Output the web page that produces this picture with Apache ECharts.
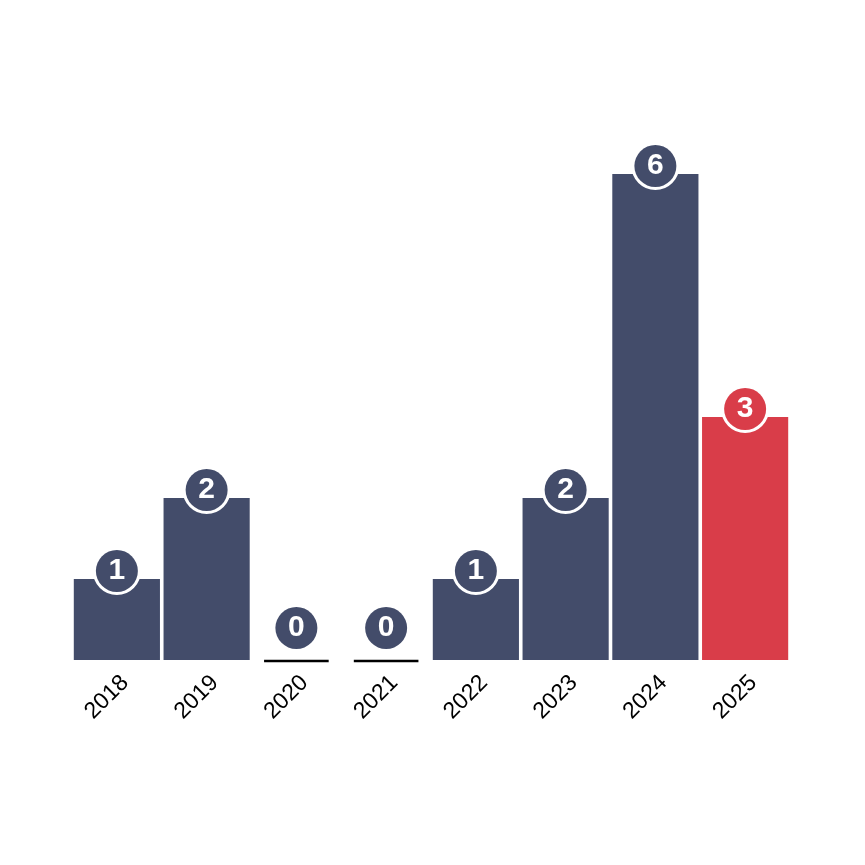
<!DOCTYPE html>
<html>
<head>
<meta charset="utf-8">
<script src="https://cdn.jsdelivr.net/npm/echarts@6/dist/echarts.min.js"></script>
<style>
  html, body { margin: 0; padding: 0; background: #fff; }
  #chart { width: 865px; height: 865px; }
</style>
</head>
<body>
<div id="chart"></div>
<script>
'use strict';

// years shown on the x axis
const years = ['2018', '2019', '2020', '2021', '2022', '2023', '2024', '2025'];
// count per year
const counts = [1, 2, 0, 0, 1, 2, 6, 3];

const NAVY = '#434c6a';
const RED = '#d93d49';

// last year is highlighted in red
const barColor = i => (i === years.length - 1 ? RED : NAVY);

const barData = counts.map((v, i) => ({
    value: v,
    itemStyle: { color: barColor(i) },
    label: {
        backgroundColor: barColor(i),
        distance: v === 0 ? 11 : -13
    }
}));

const chart = echarts.init(document.getElementById('chart'));

chart.setOption({
    animation: false,
    grid: { left: 72, right: 75, top: 174, bottom: 205 },
    xAxis: {
        type: 'category',
        data: years,
        axisLine: { show: false },
        axisTick: { show: false },
        axisLabel: {
            rotate: 45,
            margin: 11,
            verticalAlign: 'top',
            color: '#000',
            fontSize: 23,
            fontFamily: 'Liberation Sans, Arial, sans-serif'
        }
    },
    yAxis: {
        type: 'value',
        min: 0,
        max: 6,
        show: false,
        splitLine: { show: false }
    },
    series: [
        {
            type: 'bar',
            data: barData,
            barCategoryGap: '4%',
            label: {
                show: true,
                position: 'top',
                color: '#fff',
                fontSize: 30,
                fontWeight: 'bold',
                fontFamily: 'Liberation Sans, Arial, sans-serif',
                width: 42,
                height: 42,
                lineHeight: 42,
                align: 'center',
                borderRadius: 23,
                borderColor: '#fff',
                borderWidth: 3
            },
            z: 2
        },
        {
            // short black baseline marks for years with no count
            type: 'custom',
            data: counts.map((v, i) => [i, v]),
            renderItem: (params, api) => {
                if (api.value(1) !== 0) {
                    return null;
                }
                const p = api.coord([api.value(0), 0]);
                const half = api.size([1, 0])[0] * 0.36;
                return {
                    type: 'line',
                    shape: { x1: p[0] - half, y1: p[1] + 1, x2: p[0] + half, y2: p[1] + 1 },
                    style: { stroke: '#000', lineWidth: 2.5 }
                };
            },
            z: 3
        }
    ]
});
</script>
</body>
</html>
